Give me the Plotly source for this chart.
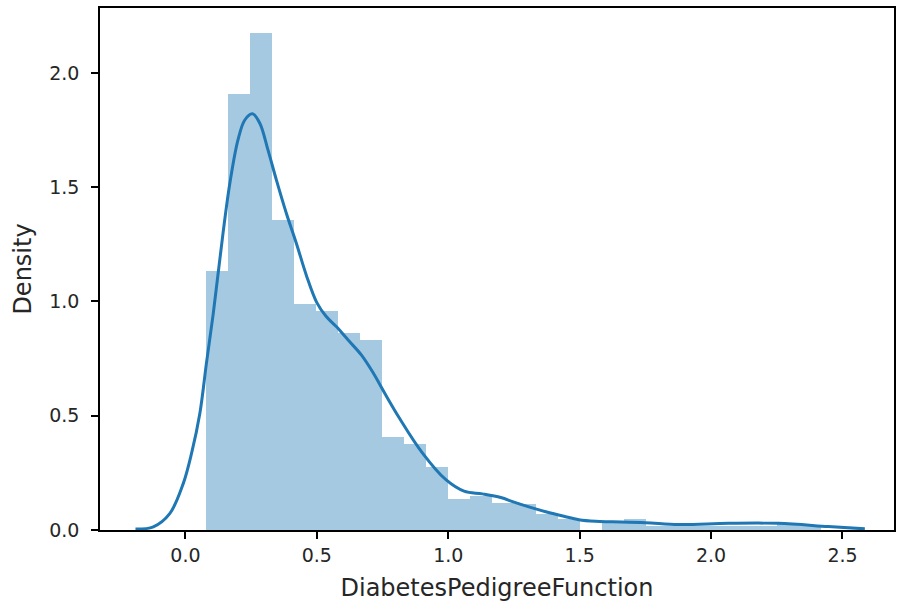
import plotly.graph_objects as go

# Histogram bin edges (DiabetesPedigreeFunction) and bar densities
bin_edges = [0.078, 0.1616, 0.2453, 0.3289, 0.4126, 0.4962, 0.5798, 0.6635, 0.7471,
             0.8308, 0.9144, 0.9980, 1.0817, 1.1653, 1.2490, 1.3326, 1.4162, 1.4999,
             1.5835, 1.6672, 1.7508, 1.8344, 1.9181, 2.0017, 2.0854, 2.1690, 2.2526,
             2.3363, 2.4199]
bar_density = [1.135, 1.909, 2.173, 1.357, 0.989, 0.957, 0.864, 0.832, 0.406, 0.375,
               0.277, 0.135, 0.150, 0.120, 0.112, 0.070, 0.047, 0.0, 0.031, 0.047,
               0.016, 0.016, 0.016, 0.016, 0.016, 0.016, 0.031, 0.016]

# KDE curve
kde_x = [-0.19, -0.122, -0.059, -0.008, 0.0235, 0.055, 0.080, 0.106, 0.143, 0.169,
         0.200, 0.226, 0.255, 0.283, 0.314, 0.346, 0.384, 0.422, 0.460, 0.500,
         0.535, 0.574, 0.620, 0.670, 0.713, 0.760, 0.814, 0.900, 0.991, 1.060,
         1.130, 1.200, 1.250, 1.310, 1.371, 1.440, 1.497, 1.560, 1.624, 1.750,
         1.877, 2.067, 2.256, 2.446, 2.585]
kde_y = [0.004, 0.014, 0.073, 0.204, 0.336, 0.511, 0.730, 0.948, 1.298, 1.517,
         1.707, 1.794, 1.821, 1.780, 1.663, 1.532, 1.386, 1.255, 1.115, 0.995,
         0.935, 0.890, 0.830, 0.765, 0.690, 0.595, 0.490, 0.340, 0.220, 0.170,
         0.158, 0.142, 0.122, 0.100, 0.080, 0.060, 0.045, 0.038, 0.036, 0.032,
         0.024, 0.029, 0.029, 0.015, 0.005]

x_ticks = [0.0, 0.5, 1.0, 1.5, 2.0, 2.5]
y_ticks = [0.0, 0.5, 1.0, 1.5, 2.0]

centers = [(a + b) / 2 for a, b in zip(bin_edges[:-1], bin_edges[1:])]
widths = [b - a for a, b in zip(bin_edges[:-1], bin_edges[1:])]

fig = go.Figure()
fig.add_trace(go.Bar(x=centers, y=bar_density, width=widths,
                     marker=dict(color="rgba(31,119,180,0.4)", line=dict(width=0)),
                     showlegend=False, hoverinfo="skip"))
fig.add_trace(go.Scatter(x=kde_x, y=kde_y, mode="lines",
                         line=dict(color="#1f77b4", width=3, shape="spline", smoothing=1.0),
                         showlegend=False))

tick_font = dict(family="DejaVu Sans", size=19, color="#262626")
label_font = dict(family="DejaVu Sans", size=24, color="#262626")
axis_common = dict(showgrid=False, zeroline=False, showline=True, mirror=True,
                   linecolor="black", linewidth=1.5, ticks="outside", ticklen=7,
                   tickwidth=1.5, tickcolor="black", tickfont=tick_font)

fig.update_layout(
    width=899, height=612,
    margin=dict(l=100, r=3, t=8, b=82),
    paper_bgcolor="white", plot_bgcolor="white",
    font=tick_font, bargap=0,
    xaxis=dict(range=[-0.325, 2.696], tickvals=x_ticks,
               ticktext=[f"{v:.1f}" for v in x_ticks],
               title=dict(text="DiabetesPedigreeFunction", font=label_font, standoff=15),
               **axis_common),
    yaxis=dict(range=[0, 2.284], tickvals=y_ticks,
               ticktext=[f"{v:.1f}" for v in y_ticks],
               ticklabelstandoff=8,
               title=dict(text="Density", font=label_font, standoff=11),
               **axis_common),
)

fig.write_html("out.html")
